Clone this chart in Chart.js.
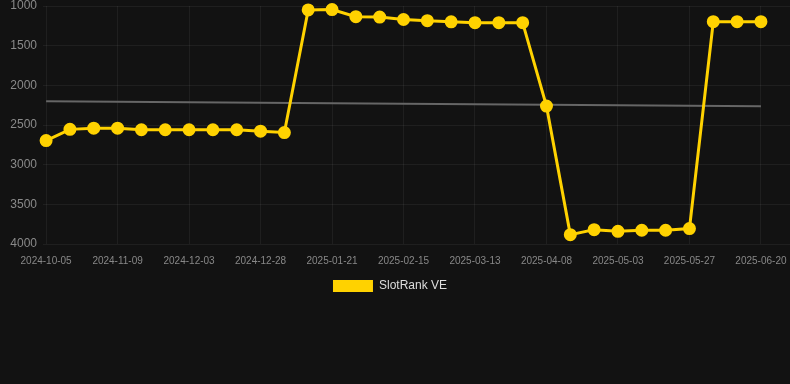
<!DOCTYPE html>
<html>
<head>
<meta charset="utf-8">
<script src="https://cdn.jsdelivr.net/npm/chart.js@4.4.1/dist/chart.umd.min.js"></script>
<style>
    html, body { margin: 0; padding: 0; background: #121212; }
    #wrap { width: 790px; height: 312px; position: relative; }
</style>
</head>
<body>
<div id="wrap"><canvas id="rankChart"></canvas></div>
<script>
// даты замеров (ось X)
const dateLabels = [
    '2024-10-05', '2024-10-17', '2024-10-28', '2024-11-09', '2024-11-17', '2024-11-25',
    '2024-12-03', '2024-12-11', '2024-12-20', '2024-12-28', '2025-01-05', '2025-01-13',
    '2025-01-21', '2025-01-29', '2025-02-06', '2025-02-15', '2025-02-23', '2025-03-04',
    '2025-03-13', '2025-03-21', '2025-03-30', '2025-04-08', '2025-04-16', '2025-04-25',
    '2025-05-03', '2025-05-11', '2025-05-19', '2025-05-27', '2025-06-04', '2025-06-12',
    '2025-06-20'
];

// позиция в рейтинге
const rankValues = [
    2696, 2555, 2540, 2540, 2560, 2560, 2560, 2560, 2560, 2578, 2595,
    1050, 1045, 1135, 1140, 1170, 1185, 1200, 1210, 1210, 1210,
    2262, 3882, 3819, 3840, 3827, 3827, 3806,
    1198, 1198, 1198
];

// линия тренда (начало и конец)
const trendStart = 2200;
const trendEnd = 2265;

const yTicks = [1000, 1500, 2000, 2500, 3000, 3500, 4000];

const seriesName = 'SlotRank VE';

const gridColor = 'rgba(255,255,255,0.055)';
const fontFamily = '"Liberation Sans", Arial, sans-serif';

let rankData = rankValues.map(function (v, i) {
    return { x: i, y: v };
});
let trendData = [
    { x: 0, y: trendStart },
    { x: rankValues.length - 1, y: trendEnd }
];

// легенда в оригинале чуть левее центра
const legendShift = {
    id: 'legendShift',
    afterLayout: function (chart) {
        if (chart.legend) {
            chart.legend.left -= 10;
        }
    }
};

let ctx = document.getElementById('rankChart').getContext('2d');

let rankChart = new Chart(ctx, {
    type: 'line',
    data: {
        datasets: [{
            label: seriesName,
            data: rankData,
            borderColor: '#ffd200',
            backgroundColor: '#ffd200',
            borderWidth: 3,
            pointRadius: 5,
            pointBackgroundColor: '#ffd200',
            pointBorderColor: '#ffd200',
            fill: false,
            tension: 0,
            clip: false
        }, {
            label: 'trend',
            data: trendData,
            borderColor: '#666666',
            borderWidth: 2,
            pointRadius: 0,
            fill: false
        }]
    },
    options: {
        responsive: true,
        maintainAspectRatio: false,
        animation: false,
        layout: {
            autoPadding: false,
            padding: { top: 6, right: 0, left: 0, bottom: 10 }
        },
        plugins: {
            legend: {
                position: 'bottom',
                labels: {
                    color: '#dddddd',
                    font: { size: 12, family: fontFamily },
                    boxWidth: 40,
                    // только основная серия, без обводки у квадратика
                    generateLabels: function (chart) {
                        let items = Chart.defaults.plugins.legend.labels.generateLabels(chart);
                        return items.filter(function (item) {
                            return item.text === seriesName;
                        }).map(function (item) {
                            item.lineWidth = 0;
                            return item;
                        });
                    }
                }
            },
            tooltip: { enabled: false }
        },
        scales: {
            x: {
                type: 'linear',
                min: -0.13,
                max: 31.22,
                border: { display: false },
                grid: { color: gridColor, drawTicks: false },
                afterFit: function (scale) {
                    scale.paddingLeft = 0;
                    scale.paddingRight = 0;
                    scale.height = 26;
                },
                ticks: {
                    stepSize: 3,
                    includeBounds: false,
                    autoSkip: false,
                    maxRotation: 0,
                    padding: 11,
                    color: '#888888',
                    font: { size: 10, family: fontFamily },
                    callback: function (value) {
                        return dateLabels[value] !== undefined ? dateLabels[value] : '';
                    }
                }
            },
            y: {
                reverse: true,
                min: yTicks[0],
                max: yTicks[yTicks.length - 1],
                border: { display: false },
                grid: { color: gridColor, drawTicks: false },
                afterFit: function (scale) {
                    scale.width = 43;
                    scale.paddingTop = 0;
                    scale.paddingBottom = 0;
                },
                ticks: {
                    stepSize: 500,
                    padding: 6,
                    color: '#8a8a8a',
                    font: { size: 12, family: fontFamily },
                    callback: function (value) { return String(value); }
                }
            }
        }
    },
    plugins: [legendShift]
});
</script>
</body>
</html>
